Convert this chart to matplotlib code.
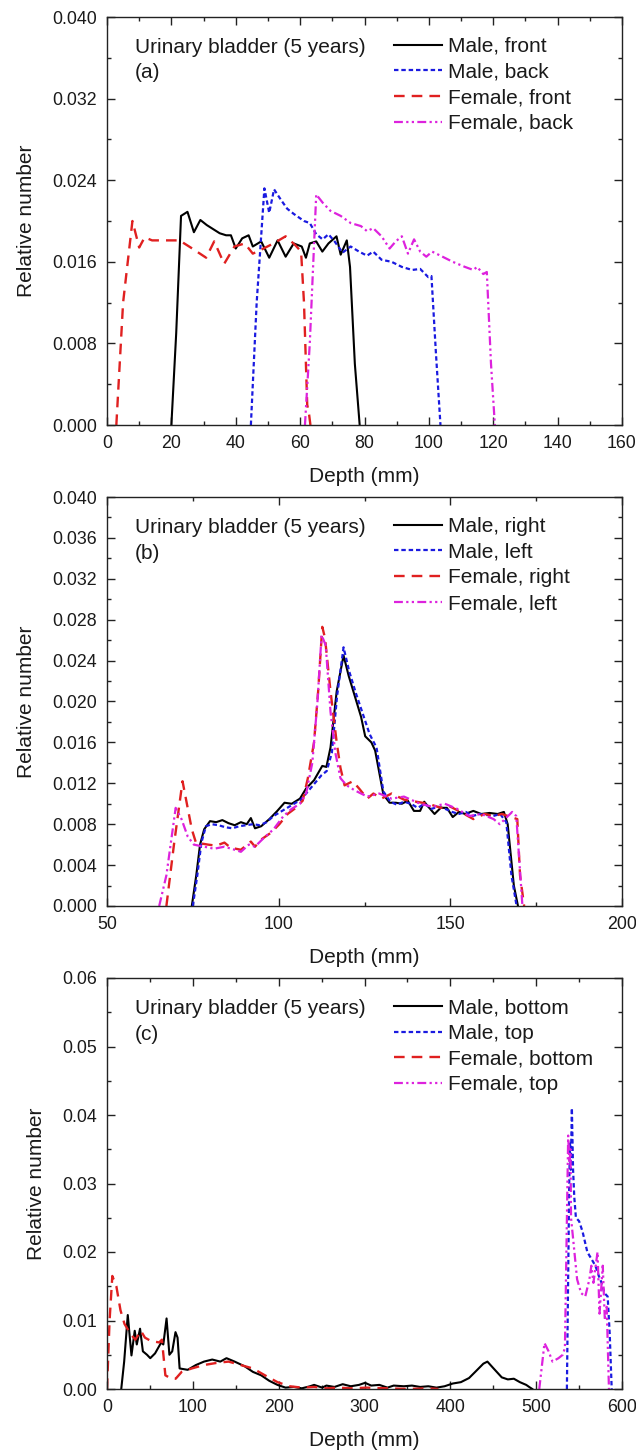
import matplotlib
matplotlib.use("Agg")
import matplotlib.pyplot as plt
from matplotlib.ticker import MultipleLocator, FormatStrFormatter

plt.rcParams['font.family'] = ['Liberation Sans', 'DejaVu Sans']

# ---------------- Panel (a): front / back ----------------
a_male_front_x = [20, 21.5, 23, 25, 27, 29, 31, 33, 35, 37, 38.5, 40, 42, 44, 45.3, 47.9, 50.4, 53, 55.5, 58, 60.5, 61.8, 63, 65, 66.9, 68.8, 71.3, 72.6, 74.5, 75.5, 77, 78.5]
a_male_front_y = [0.0, 0.009, 0.0205, 0.0209, 0.0189, 0.0201, 0.0196, 0.0192, 0.0188, 0.0186, 0.0186, 0.0173, 0.0183, 0.0186, 0.0175, 0.018, 0.0164, 0.0181, 0.0165, 0.0178, 0.0175, 0.0164, 0.0178, 0.018, 0.017, 0.0178, 0.0185, 0.0167, 0.0181, 0.0155, 0.006, 0.0]

a_male_back_x = [44.7, 46.5, 48.9, 50.4, 51.9, 54.2, 56, 58, 61.2, 63, 65, 67, 68.8, 70.7, 73.2, 75.7, 78.3, 80.8, 82.7, 85.3, 88.4, 91.6, 94.8, 97.3, 99.8, 100.8, 102.2, 103.6]
a_male_back_y = [0.0, 0.012, 0.0232, 0.0208, 0.0231, 0.0220, 0.0212, 0.0207, 0.0200, 0.0198, 0.0187, 0.0182, 0.0187, 0.0180, 0.0169, 0.0175, 0.0170, 0.0166, 0.0170, 0.0162, 0.0160, 0.0155, 0.0152, 0.0153, 0.0145, 0.0146, 0.007, 0.0]

a_female_front_x = [2.9, 5, 7.9, 10, 11.7, 14, 18, 22.5, 26, 30.8, 33.3, 36.4, 39.6, 42.8, 45.3, 48, 51.7, 55.5, 58.6, 60.3, 61.2, 62.2, 62.8, 63.2]
a_female_front_y = [0.0, 0.012, 0.0200, 0.0174, 0.0184, 0.0181, 0.0181, 0.0181, 0.0174, 0.0164, 0.0180, 0.0158, 0.0175, 0.0178, 0.0168, 0.0172, 0.0178, 0.0185, 0.0176, 0.0170, 0.012, 0.002, 0.001, 0.0]

a_female_back_x = [61.5, 63, 65, 67, 69.4, 72.6, 75.7, 78.9, 80.8, 82.7, 85.3, 87.8, 89.7, 91.6, 93.5, 95.4, 97.3, 99.2, 101, 103.6, 107.4, 111.2, 113.8, 115, 116.9, 118, 119.3, 120.5]
a_female_back_y = [0.0, 0.008, 0.0226, 0.0218, 0.0210, 0.0205, 0.0198, 0.0195, 0.0190, 0.0193, 0.0185, 0.0173, 0.0180, 0.0185, 0.0168, 0.0182, 0.0170, 0.0165, 0.0170, 0.0166, 0.0160, 0.0155, 0.0152, 0.0155, 0.0148, 0.0150, 0.006, 0.0]

# ---------------- Panel (b): right / left ----------------
b_male_right_x = [74.7, 76, 77.1, 78.3, 80, 81.8, 83.6, 85.4, 87.2, 89, 90.7, 91.9, 93.1, 94.9, 97.3, 99.6, 101.7, 103.8, 106.2, 108, 110.3, 112.7, 113.9, 115.1, 116.9, 118.9, 120.4, 122.2, 124, 125.2, 127, 128.1, 130.5, 132.3, 134.1, 135.9, 137.6, 139.4, 141.2, 142.4, 143.6, 145.4, 147.2, 149, 150.7, 152.5, 154.3, 156.7, 159, 161.4, 163.8, 165.6, 166.7, 168.5, 169.7]
b_male_right_y = [0.0, 0.003, 0.0060, 0.0075, 0.0083, 0.0082, 0.0084, 0.0081, 0.0079, 0.0082, 0.0080, 0.0086, 0.0076, 0.0078, 0.0085, 0.0093, 0.0101, 0.0100, 0.0105, 0.0115, 0.0123, 0.0137, 0.0136, 0.0155, 0.0210, 0.0245, 0.0225, 0.0205, 0.0185, 0.0166, 0.0160, 0.0152, 0.0109, 0.0101, 0.0101, 0.0100, 0.0103, 0.0093, 0.0093, 0.0102, 0.0097, 0.0090, 0.0096, 0.0096, 0.0087, 0.0092, 0.0090, 0.0093, 0.0090, 0.0091, 0.0090, 0.0092, 0.0080, 0.0020, 0.0]

b_male_left_x = [75.0, 76.3, 77.5, 78.8, 80.5, 82.5, 84.5, 86.5, 88.5, 90.5, 92.5, 94.5, 96.5, 98.5, 100.5, 102.5, 104.5, 106.5, 108.5, 110.5, 112.5, 114, 115.5, 117, 118.9, 120.5, 122.5, 124.5, 126.5, 128.5, 130.5, 132.5, 134.5, 136.5, 138.5, 140.5, 142.5, 144.5, 146.5, 148.5, 150.5, 152.5, 154.5, 156.5, 158.5, 160.5, 162.5, 164.5, 166.3, 167.8, 169.3]
b_male_left_y = [0.0, 0.003, 0.0062, 0.0078, 0.0080, 0.0079, 0.0077, 0.0076, 0.0078, 0.0079, 0.0080, 0.0079, 0.0082, 0.0088, 0.0092, 0.0096, 0.0100, 0.0104, 0.0112, 0.0120, 0.0128, 0.0132, 0.0150, 0.0205, 0.0253, 0.0230, 0.0208, 0.0188, 0.0168, 0.0155, 0.0112, 0.0102, 0.0099, 0.0102, 0.0100, 0.0096, 0.0100, 0.0095, 0.0097, 0.0095, 0.0092, 0.0090, 0.0092, 0.0088, 0.0090, 0.0089, 0.0088, 0.0090, 0.0082, 0.0030, 0.0]

b_female_right_x = [67.3, 69.5, 72.0, 74.7, 75.9, 79.5, 81.8, 84.2, 86.0, 89.0, 91.9, 93.1, 94.9, 97.9, 100.2, 102.6, 105.0, 107.0, 108.5, 110.3, 111.5, 112.7, 113.5, 115.1, 116.9, 118.0, 119.2, 121.6, 123.4, 125.8, 127.6, 129.9, 132.9, 136.5, 140.0, 143.6, 147.2, 149.5, 153.0, 156.7, 160.0, 162.6, 165.0, 168.6, 169.5, 170.3, 171.5]
b_female_right_y = [0.0, 0.006, 0.0122, 0.0075, 0.0062, 0.0060, 0.0059, 0.0062, 0.0057, 0.0055, 0.0063, 0.0058, 0.0065, 0.0072, 0.0080, 0.0090, 0.0096, 0.0103, 0.0125, 0.0160, 0.0210, 0.0273, 0.0262, 0.0210, 0.0160, 0.0135, 0.0118, 0.0122, 0.0115, 0.0105, 0.0110, 0.0105, 0.0110, 0.0104, 0.0102, 0.0100, 0.0096, 0.0098, 0.0092, 0.0085, 0.0090, 0.0088, 0.0090, 0.0086, 0.0085, 0.0030, 0.0]

b_female_left_x = [65.2, 67.3, 70.0, 71.7, 73.5, 75.3, 78.3, 81.2, 84.2, 87.2, 89.0, 91.3, 93.1, 95.5, 98.5, 101.4, 103.8, 106.2, 108.0, 109.8, 111.3, 112.5, 113.7, 115.1, 116.5, 118.0, 119.8, 122.2, 125.8, 129.3, 132.9, 136.5, 141.2, 144.8, 148.4, 152.0, 155.5, 159.0, 162.6, 164.4, 168.0, 169.2, 171.0]
b_female_left_y = [0.0, 0.0030, 0.0096, 0.0085, 0.0068, 0.0060, 0.0058, 0.0056, 0.0058, 0.0055, 0.0053, 0.0060, 0.0058, 0.0066, 0.0075, 0.0088, 0.0095, 0.0100, 0.0110, 0.0140, 0.0200, 0.0265, 0.0255, 0.0190, 0.0150, 0.0125, 0.0118, 0.0113, 0.0107, 0.0110, 0.0105, 0.0107, 0.0100, 0.0097, 0.0100, 0.0095, 0.0088, 0.0090, 0.0085, 0.0080, 0.0092, 0.0088, 0.0]

# ---------------- Panel (c): bottom / top ----------------
c_male_bottom_x = [16.6, 20, 24.2, 28.5, 32.3, 34.7, 38.5, 41.8, 46.6, 50.4, 56, 63.2, 65.6, 69.4, 72.7, 76, 79.8, 82.2, 84.6, 94, 103.6, 113, 122.6, 132, 139.2, 148.7, 160.6, 170, 179.6, 189, 198.6, 208, 217.6, 227, 236.6, 241.3, 250.8, 255.6, 265, 274.6, 284, 293.6, 300.7, 307.8, 317.3, 326.8, 334, 345.8, 355.3, 364.8, 374.3, 383.8, 393.3, 402.8, 412.3, 421.8, 429, 438.5, 443.2, 450.4, 459.9, 467, 474, 481, 488.4, 493, 495.5]
c_male_bottom_y = [0.0, 0.004, 0.0108, 0.0049, 0.0085, 0.0065, 0.0088, 0.0055, 0.0050, 0.0045, 0.0052, 0.0068, 0.0065, 0.0103, 0.0050, 0.0055, 0.0083, 0.0075, 0.0030, 0.0028, 0.0035, 0.0040, 0.0043, 0.0040, 0.0045, 0.0040, 0.0033, 0.0025, 0.0020, 0.0012, 0.0006, 0.0002, 0.0003, 0.0001, 0.0004, 0.0006, 0.0002, 0.0005, 0.0003, 0.0007, 0.0004, 0.0006, 0.0009, 0.0005, 0.0006, 0.0002, 0.0005, 0.0004, 0.0005, 0.0003, 0.0004, 0.0002, 0.0004, 0.0008, 0.0010, 0.0016, 0.0025, 0.0037, 0.0040, 0.0030, 0.0017, 0.0014, 0.0015, 0.0010, 0.0006, 0.0002, 0.0]

c_male_top_x = [535.8, 538.5, 539.5, 540.3, 541.6, 543, 544.4, 546.3, 550, 554, 559.6, 564.3, 569, 573, 576.2, 579.5, 583.3, 585.7, 588]
c_male_top_y = [0.0, 0.030, 0.036, 0.032, 0.041, 0.032, 0.028, 0.025, 0.0245, 0.023, 0.020, 0.019, 0.018, 0.0165, 0.0155, 0.014, 0.0135, 0.008, 0.0]

c_female_bottom_x = [0, 3, 6.2, 10.9, 15.7, 20.4, 27.6, 33, 39.4, 44.2, 51.3, 60.8, 64, 68, 75, 80, 87, 98.8, 113, 127.3, 141.6, 155.8, 170, 184, 198.6, 212.8, 227, 241.3, 255.6, 270, 284, 303, 326.8, 350.6, 374, 386]
c_female_bottom_y = [0.0, 0.010, 0.0165, 0.0150, 0.0115, 0.0095, 0.0080, 0.0072, 0.0085, 0.0075, 0.0070, 0.0068, 0.0072, 0.0020, 0.0015, 0.0015, 0.0025, 0.0030, 0.0035, 0.0038, 0.0040, 0.0035, 0.0030, 0.0020, 0.0010, 0.0004, 0.0002, 0.0003, 0.0001, 0.0002, 0.0001, 0.0002, 0.0001, 0.0, 0.0001, 0.0]

c_female_top_x = [503.6, 509.7, 514.5, 519, 526, 531, 533.5, 537.3, 538.7, 540, 540.6, 543, 547.7, 552.4, 557.2, 562, 564.3, 566.7, 571.5, 573.8, 577.6, 580, 582.2, 584.8]
c_female_top_y = [0.0, 0.0067, 0.0055, 0.0040, 0.0045, 0.0050, 0.0060, 0.0370, 0.0330, 0.0350, 0.0250, 0.0220, 0.0160, 0.0140, 0.0135, 0.0160, 0.0180, 0.0155, 0.0200, 0.0110, 0.0180, 0.0100, 0.0120, 0.0]

panels = [
    dict(tag="(a)", xlim=(0, 160), ylim=(0, 0.040), xmaj=20, xmin=10, ymaj=0.008, ymin=0.004, yfmt="%.3f",
         series=[(a_male_front_x, a_male_front_y, "Male, front"),
                 (a_male_back_x, a_male_back_y, "Male, back"),
                 (a_female_front_x, a_female_front_y, "Female, front"),
                 (a_female_back_x, a_female_back_y, "Female, back")]),
    dict(tag="(b)", xlim=(50, 200), ylim=(0, 0.040), xmaj=50, xmin=25, ymaj=0.004, ymin=0.002, yfmt="%.3f",
         series=[(b_male_right_x, b_male_right_y, "Male, right"),
                 (b_male_left_x, b_male_left_y, "Male, left"),
                 (b_female_right_x, b_female_right_y, "Female, right"),
                 (b_female_left_x, b_female_left_y, "Female, left")]),
    dict(tag="(c)", xlim=(0, 600), ylim=(0, 0.06), xmaj=100, xmin=50, ymaj=0.01, ymin=0.005, yfmt="%.2f",
         series=[(c_male_bottom_x, c_male_bottom_y, "Male, bottom"),
                 (c_male_top_x, c_male_top_y, "Male, top"),
                 (c_female_bottom_x, c_female_bottom_y, "Female, bottom"),
                 (c_female_top_x, c_female_top_y, "Female, top")]),
]

styles = [
    dict(color="black", lw=1.5, linestyle="-"),
    dict(color="#1a1ae0", lw=1.6, linestyle=(0, (2.0, 1.3))),
    dict(color="#e02020", lw=1.7, linestyle=(0, (4.5, 3.0))),
    dict(color="#dd22dd", lw=1.6, linestyle=(0, (4.0, 1.5, 1.0, 1.5, 1.0, 1.5))),
]

W, H = 636, 1451
fig = plt.figure(figsize=(W / 100, H / 100), dpi=100)
left = 107 / W
width = 515 / W
boxes = [(17, 425), (497, 906), (978, 1389)]

txt_color = "#1a1a1a"
for p, (top_px, bot_px) in zip(panels, boxes):
    ax = fig.add_axes([left, 1 - bot_px / H, width, (bot_px - top_px) / H])
    for (x, y, lab), st in zip(p["series"], styles):
        ax.plot(x, y, label=lab, **st)
    ax.set_xlim(*p["xlim"])
    ax.set_ylim(*p["ylim"])
    ax.xaxis.set_major_locator(MultipleLocator(p["xmaj"]))
    ax.xaxis.set_minor_locator(MultipleLocator(p["xmin"]))
    ax.yaxis.set_major_locator(MultipleLocator(p["ymaj"]))
    ax.yaxis.set_minor_locator(MultipleLocator(p["ymin"]))
    ax.yaxis.set_major_formatter(FormatStrFormatter(p["yfmt"]))
    ax.tick_params(which="both", direction="in", top=True, right=True, width=1.0, colors="#222222",
                   labelsize=12.8, labelcolor=txt_color, pad=7)
    ax.tick_params(which="major", length=6)
    ax.tick_params(which="minor", length=3)
    for s in ax.spines.values():
        s.set_linewidth(1.0)
        s.set_color("#222222")
    ax.set_xlabel("Depth (mm)", fontsize=15, color=txt_color, labelpad=11)
    ax.set_ylabel("Relative number", fontsize=15, color=txt_color, labelpad=12)
    ax.text(0.054, 0.926, "Urinary bladder (5 years)", transform=ax.transAxes, fontsize=15,
            color=txt_color, va="center", ha="left")
    ax.text(0.054, 0.863, p["tag"], transform=ax.transAxes, fontsize=15,
            color=txt_color, va="center", ha="left")
    leg = ax.legend(loc="upper left", bbox_to_anchor=(0.557, 0.951), frameon=False, fontsize=15,
                    handlelength=2.3, handletextpad=0.3, labelspacing=0.32, borderpad=0,
                    borderaxespad=0)
    for t in leg.get_texts():
        t.set_color(txt_color)

fig.savefig("out.png", dpi=100)
